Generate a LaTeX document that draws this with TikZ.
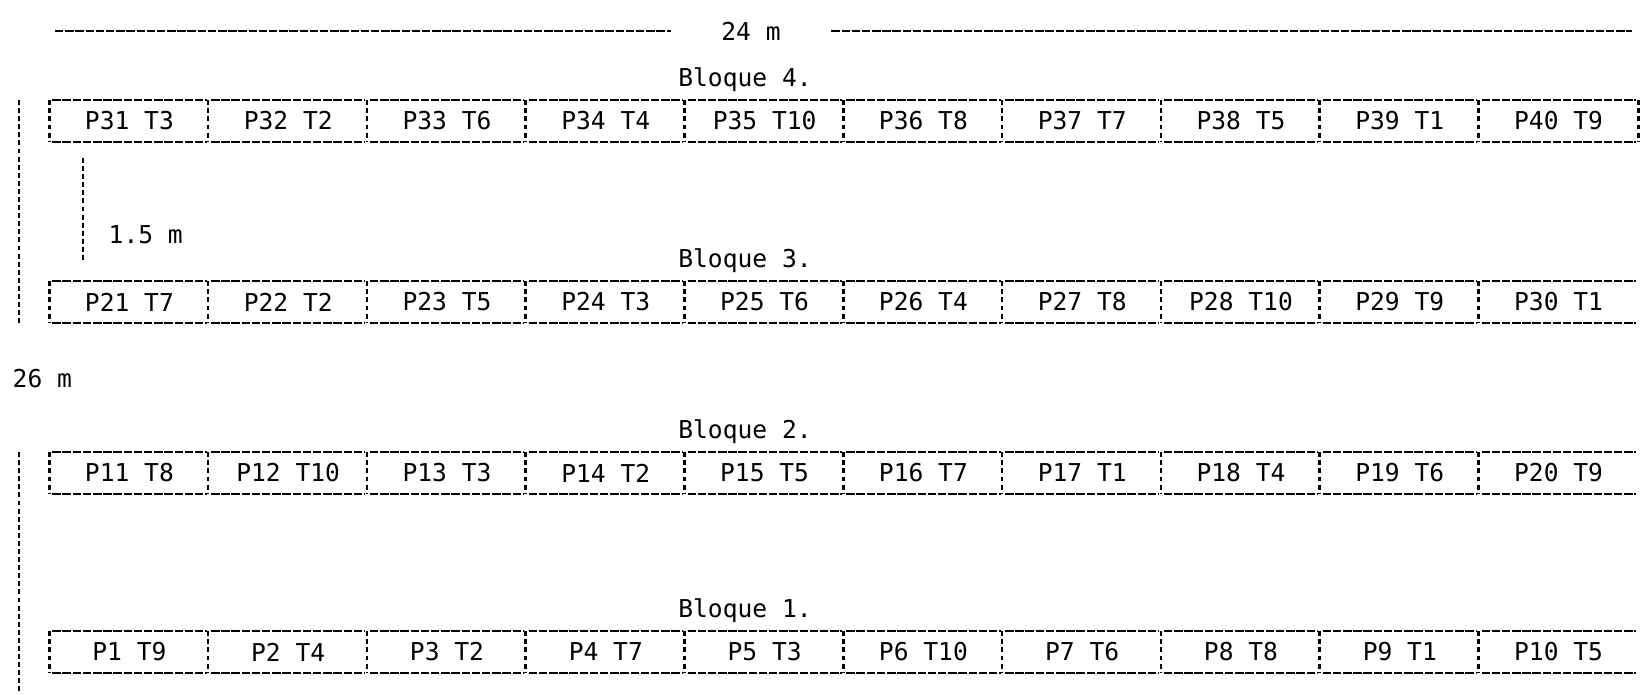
\documentclass[tikz,border=0pt]{standalone}
\usepackage{fontspec}
\setmonofont{DejaVu Sans Mono}
\usepackage{tikz}

\tikzset{
  raya/.style={line width=0.5pt, dash pattern=on 2.4pt off 0.5pt},
  barra/.style={line width=0.75pt, dash pattern=on 1.4pt off 0.9pt},
  parcela/.style={minimum width=15.88mm, minimum height=4mm, inner sep=0pt,
    font=\ttfamily\fontsize{7}{8}\selectfont},
  rotulo/.style={inner sep=0pt, font=\ttfamily\fontsize{7}{8}\selectfont},
}

\begin{document}
\begin{tikzpicture}[x=0.1mm, y=-0.1mm]
    \useasboundingbox (0,0) rectangle (1640,695);

    % largo total
    \node[rotulo, inner xsep=5mm] (largo) at (751,31) {24 m};
    \coordinate (largoA) at (55,31);
    \coordinate (largoB) at (1632,31);
    \draw[raya] (largoA) -- (largo.west);
    \draw[raya] (largo.east) -- (largoB);

    % ancho total
    \node[rotulo, anchor=west] (ancho) at (12,379) {26 m};
    \coordinate (anchoA) at (19,100);
    \coordinate (anchoB) at (19,325);
    \coordinate (anchoC) at (19,452);
    \coordinate (anchoD) at (19,695);
    \draw[barra] (anchoA) -- (anchoB);
    \draw[barra] (anchoC) -- (anchoD);

    % calle entre bloques
    \coordinate (calleA) at (83,158);
    \coordinate (calleB) at (83,262);
    \draw[barra] (calleA) -- (calleB);
    \node[rotulo, anchor=west] (calle) at (108,235) {1.5 m};

    % bloques y parcelas
    \foreach \fila/\yc/\trat in {4/121/{3,2,6,4,10,8,7,5,1,9},
                                 3/302/{7,2,5,3,6,4,8,10,9,1},
                                 2/473/{8,10,3,2,5,7,1,4,6,9},
                                 1/652/{9,4,2,7,3,10,6,8,1,5}} {
        \node[rotulo] (bloque\fila) at (745,\yc-41) {Bloque \fila.};
        \foreach \t [count=\c] in \trat {
            \pgfmathtruncatemacro\p{10*(\fila-1)+\c}
            \node[parcela] (p\p) at ({50+158.8*(\c-0.5)},\yc) {P\p\ T\t};
            \draw[raya] ([xshift=0.3mm]p\p.north west) -- ([xshift=-0.3mm]p\p.north east);
            \draw[raya] ([xshift=0.3mm]p\p.south west) -- ([xshift=-0.3mm]p\p.south east);
            \draw[barra] (p\p.north west) -- (p\p.south west);
        }
    }
    \draw[barra] (p40.north east) -- (p40.south east);
\end{tikzpicture}
\end{document}
